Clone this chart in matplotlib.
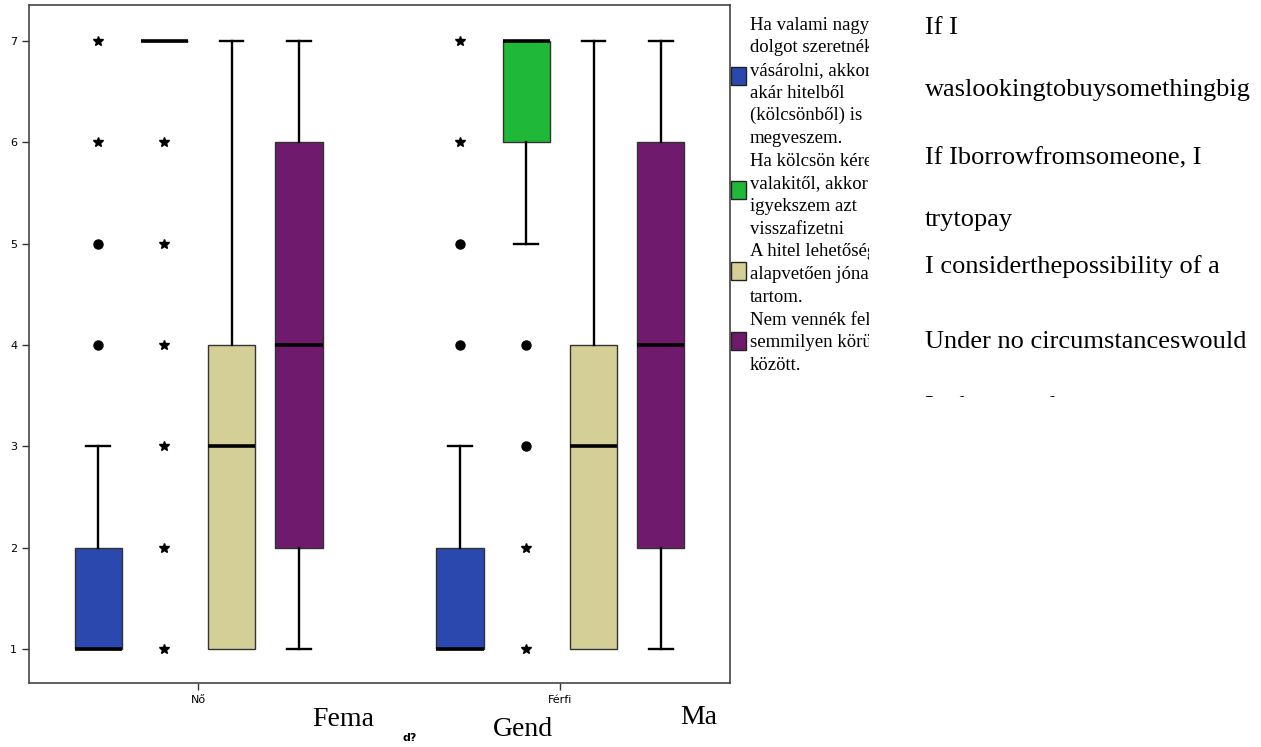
import matplotlib
matplotlib.use('Agg')
import matplotlib.pyplot as plt
from matplotlib.patches import Rectangle

# categories and series
groups = ['Nő', 'Férfi']
series_colors = ['#2b48ae', '#20b838', '#d4cf96', '#701a6e']

# box statistics per series, for Nő then Férfi
q1_no = [1, 7, 1, 2]
med_no = [1, 7, 3, 4]
q3_no = [2, 7, 4, 6]
lo_no = [1, 7, 1, 1]
hi_no = [3, 7, 7, 7]

q1_fe = [1, 6, 1, 2]
med_fe = [1, 7, 3, 4]
q3_fe = [2, 7, 4, 6]
lo_fe = [1, 5, 1, 1]
hi_fe = [3, 7, 7, 7]

# outliers (circles) and extremes (stars)
circles_no = [[4, 5], [], [], []]
stars_no = [[6, 7], [1, 2, 3, 4, 5, 6], [], []]
circles_fe = [[4, 5], [3, 4], [], []]
stars_fe = [[6, 7], [1, 2], [], []]

yticks = [1, 2, 3, 4, 5, 6, 7]

legend_lines = [
    ['Ha valami nagyobb', 'dolgot szeretnék', 'vásárolni, akkor', 'akár hitelből',
     '(kölcsönből) is', 'megveszem.'],
    ['Ha kölcsön kérek', 'valakitől, akkor', 'igyekszem azt', 'visszafizetni'],
    ['A hitel lehetőségét', 'alapvetően jónak', 'tartom.'],
    ['Nem vennék fel hitelt', 'semmilyen körülmények', 'között.'],
]

english_lines = ['If I', 'waslookingtobuysomethingbig', 'If Iborrowfromsomeone, I',
                 'trytopay', 'I considerthepossibility of a', 'Under no circumstanceswould',
                 'I take out a loan']

W, H = 1261, 747
fig = plt.figure(figsize=(W / 100, H / 100), dpi=100)
ax = fig.add_axes([29 / W, 1 - 683 / H, (730 - 29) / W, (683 - 5) / H])

offsets = [-0.276, -0.093, 0.093, 0.279]
box_w = 0.13

all_q1 = [q1_no, q1_fe]
all_med = [med_no, med_fe]
all_q3 = [q3_no, q3_fe]
all_lo = [lo_no, lo_fe]
all_hi = [hi_no, hi_fe]
all_circ = [circles_no, circles_fe]
all_star = [stars_no, stars_fe]

for g in range(len(groups)):
    for s in range(4):
        pos = g + offsets[s]
        st = [{'q1': all_q1[g][s], 'med': all_med[g][s], 'q3': all_q3[g][s],
               'whislo': all_lo[g][s], 'whishi': all_hi[g][s], 'fliers': []}]
        parts = ax.bxp(st, positions=[pos], widths=box_w, capwidths=box_w / 2,
                       showfliers=False, patch_artist=True,
                       boxprops=dict(facecolor=series_colors[s], edgecolor='#333333', linewidth=1),
                       medianprops=dict(color='black', linewidth=2.6),
                       whiskerprops=dict(color='black', linewidth=1.7),
                       capprops=dict(color='black', linewidth=1.7))
        # no cap where the whisker has zero length
        if all_lo[g][s] == all_q1[g][s]:
            parts['caps'][0].set_visible(False)
        if all_hi[g][s] == all_q3[g][s]:
            parts['caps'][1].set_visible(False)
        c = all_circ[g][s]
        if c:
            ax.plot([pos] * len(c), c, 'o', color='black', markersize=6.5)
        st_ = all_star[g][s]
        if st_:
            ax.plot([pos] * len(st_), st_, '*', color='black', markersize=7.5)

ax.set_xlim(-0.467, 1.47)
ax.set_ylim(0.664, 7.355)
ax.set_yticks(yticks)
ax.set_yticklabels([str(v) for v in yticks], fontsize=8)
ax.set_xticks(range(len(groups)))
ax.set_xticklabels(groups, fontsize=8)
ax.tick_params(axis='both', length=5, width=1, color='#333333')
for sp in ax.spines.values():
    sp.set_color('#444444')
    sp.set_linewidth(1.2)

# legend with clipped text
lax = fig.add_axes([748 / W, 0, (869 - 748) / W, 1])
lax.set_xlim(748, 869)
lax.set_ylim(H, 0)
lax.axis('off')
line_y = 25
square_y = [76, 190, 271, 341]
for i, lines in enumerate(legend_lines):
    for t in lines:
        lax.text(750, line_y, t, fontsize=13.5, family='Liberation Serif',
                 va='center', ha='left', clip_on=True)
        line_y += 22.7
    fig.patches.append(Rectangle((731 / W, 1 - (square_y[i] + 9) / H), 15 / W, 18 / H,
                                 transform=fig.transFigure, facecolor=series_colors[i],
                                 edgecolor='#222222', linewidth=1))

# english overlay text, last line clipped
eax = fig.add_axes([920 / W, 1 - 397 / H, (W - 920) / W, 397 / H])
eax.set_xlim(920, W)
eax.set_ylim(397, 0)
eax.axis('off')
eng_y = [28, 90, 158, 220, 267, 342, 407]
for t, y in zip(english_lines, eng_y):
    eax.text(925, y, t, fontsize=19, family='Liberation Serif', va='center',
             ha='left', clip_on=True)

fig.text(312 / W, 1 - 720 / H, 'Fema', fontsize=20, family='Liberation Serif', va='center')
fig.text(403 / W, 1 - 738 / H, 'd?', fontsize=8, weight='bold', va='center')
fig.text(493 / W, 1 - 729 / H, 'Gend', fontsize=20, family='Liberation Serif', va='center')
fig.text(680 / W, 1 - 717 / H, 'Ma', fontsize=20, family='Liberation Serif', va='center')

fig.savefig('out.png', dpi=100)
